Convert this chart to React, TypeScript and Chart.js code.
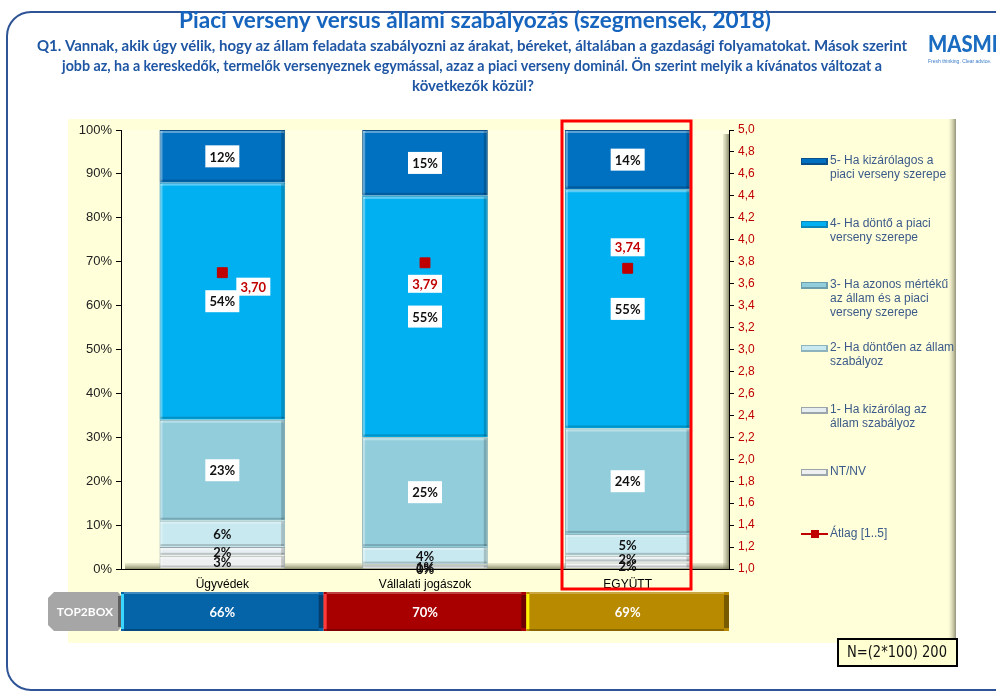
import { useEffect, useRef } from 'react';
import { Chart, registerables } from 'chart.js';
Chart.register(...registerables);

const categories = ['Ügyvédek', 'Vállalati jogászok', 'EGYÜTT'];
const ntnvValues = [3, 0, 1.5];
const s1Values = [2, 1, 1.5];
const s2Values = [6, 4, 5];
const s3Values = [23, 25, 24];
const s4Values = [54, 55, 54.5];
const s5Values = [12, 15, 13.5];
const averageValues = [3.7, 3.79, 3.74];
const top2boxValues = [66, 70, 69];

const seriesNames = [
  'NT/NV',
  '1- Ha kizárólag az állam szabályoz',
  '2- Ha döntően az állam szabályoz',
  '3- Ha azonos mértékű az állam és a piaci verseny szerepe',
  '4- Ha döntő a piaci verseny szerepe',
  '5- Ha kizárólagos a piaci verseny szerepe',
];
const averageName = 'Átlag [1..5]';
const legendLines: string[][] = [
  ['NT/NV'],
  ['1- Ha kizárólag az', 'állam szabályoz'],
  ['2- Ha döntően az állam', 'szabályoz'],
  ['3- Ha azonos mértékű', 'az állam és a piaci', 'verseny szerepe'],
  ['4- Ha döntő a piaci', 'verseny szerepe'],
  ['5- Ha kizárólagos a', 'piaci verseny szerepe'],
];
const seriesColors = ['#EDEFF0', '#E6EEF1', '#C8E9F0', '#92CDDC', '#00B0F0', '#0070C0'];
const seriesBorders = ['#9AA6AA', '#9AA6AA', '#8FB3BD', '#6F9FAD', '#0A86B8', '#0A4F8A'];
const top2boxColors = ['#0563A8', '#A80000', '#B88A00'];
const top2boxHighlights = ['#39D6FF', '#FF3A3A', '#FFF200'];

const titleText = 'Piaci verseny versus állami szabályozás (szegmensek, 2018)';
const subtitleLines = [
  'Q1. Vannak, akik úgy vélik, hogy az állam feladata szabályozni az árakat, béreket, általában a gazdasági folyamatokat. Mások szerint',
  'jobb az, ha a kereskedők, termelők versenyeznek egymással, azaz a piaci verseny dominál. Ön szerint melyik a kívánatos változat a',
  'következők közül?',
];

const W = 996;
const H = 691;
const SANS = '"Liberation Sans", Arial, sans-serif';
const NARROW = 'Lato, "Liberation Sans", sans-serif';

const decorPlugin = {
  id: 'decor',
  beforeDraw(chart: any) {
    const ctx = chart.ctx as CanvasRenderingContext2D;
    const ca = chart.chartArea;
    ctx.save();
    ctx.fillStyle = '#FFFFFF';
    ctx.fillRect(0, 0, W, H);
    // frame
    ctx.strokeStyle = '#2F5496';
    ctx.lineWidth = 2;
    ctx.beginPath();
    (ctx as any).roundRect(7, 12, 1100, 678, 24);
    ctx.stroke();
    // title
    ctx.fillStyle = '#1664BE';
    ctx.textAlign = 'center';
    ctx.textBaseline = 'middle';
    ctx.font = `bold 23px ${NARROW}`;
    ctx.fillText(titleText, 475, 21, 592);
    ctx.fillStyle = '#1F56A3';
    ctx.font = `bold 15px ${NARROW}`;
    ctx.fillText(subtitleLines[0], 472, 46, 880);
    ctx.fillText(subtitleLines[1], 472, 66, 820);
    ctx.fillText(subtitleLines[2], 473, 86, 145);
    // logo
    ctx.textAlign = 'left';
    ctx.fillStyle = '#1A6CC0';
    ctx.font = `900 22px ${NARROW}`;
    ctx.fillText('MASMI', 928, 45, 70);
    ctx.font = `5px ${SANS}`;
    ctx.fillStyle = '#3A7BC8';
    ctx.fillText('Fresh thinking. Clear advice.', 928, 62);
    // cream panel
    ctx.fillStyle = '#FFFFD9';
    ctx.fillRect(68, 119, 887, 524);
    const g = ctx.createLinearGradient(948, 0, 956, 0);
    g.addColorStop(0, 'rgba(200,200,170,0)');
    g.addColorStop(1, 'rgba(120,120,90,0.8)');
    ctx.fillStyle = g;
    ctx.fillRect(948, 119, 8, 524);
    // plot wall
    ctx.fillStyle = '#FFFFE4';
    ctx.fillRect(ca.left, ca.top, ca.right - ca.left, ca.bottom - ca.top);
    const gr = ctx.createLinearGradient(ca.right - 6, 0, ca.right, 0);
    gr.addColorStop(0, 'rgba(160,160,130,0.2)');
    gr.addColorStop(1, 'rgba(110,110,80,0.8)');
    ctx.fillStyle = gr;
    ctx.fillRect(ca.right - 6, ca.top + 4, 6, ca.bottom - ca.top - 4);
    const gb = ctx.createLinearGradient(0, ca.bottom - 6, 0, ca.bottom);
    gb.addColorStop(0, 'rgba(160,160,130,0.2)');
    gb.addColorStop(1, 'rgba(110,110,80,0.8)');
    ctx.fillStyle = gb;
    ctx.fillRect(ca.left + 4, ca.bottom - 6, ca.right - ca.left - 4, 6);
    ctx.restore();
  },
  afterDatasetsDraw(chart: any) {
    const ctx = chart.ctx as CanvasRenderingContext2D;
    ctx.save();
    const bars: any[] = [];
    chart.data.datasets.forEach((ds: any, di: number) => {
      if (ds.type === 'line') return;
      const meta = chart.getDatasetMeta(di);
      meta.data.forEach((el: any, i: number) => {
        const p = el.getProps(['x', 'y', 'base', 'width'], true);
        const top = Math.min(p.y, p.base);
        const h = Math.abs(p.base - p.y);
        const left = p.x - p.width / 2;
        if (h > 3) {
          ctx.fillStyle = 'rgba(255,255,255,0.35)';
          ctx.fillRect(left + 1, top + 1, p.width - 2, 2);
          ctx.fillRect(left + 1, top + 1, 2, h - 2);
          ctx.fillStyle = 'rgba(0,0,0,0.18)';
          ctx.fillRect(left + p.width - 4, top + 1, 3, h - 2);
          ctx.fillRect(left + 1, top + h - 3, p.width - 2, 2);
        }
        bars.push({ x: p.x, cy: (p.y + p.base) / 2, v: ds.data[i] });
      });
    });
    ctx.textAlign = 'center';
    ctx.textBaseline = 'middle';
    ctx.font = `bold 13px ${NARROW}`;
    bars.forEach((b) => {
      const t = Math.round(b.v) + '%';
      if (b.v >= 10) {
        ctx.fillStyle = '#FFFFFF';
        ctx.fillRect(b.x - 17, b.cy - 11, 34, 22);
      }
      ctx.fillStyle = '#111111';
      ctx.fillText(t, b.x, b.cy + 1);
    });
    // average labels
    const offsets = [[31, 14], [0, 21], [0, -21]];
    chart.data.datasets.forEach((ds: any, di: number) => {
      if (ds.type !== 'line') return;
      const meta = chart.getDatasetMeta(di);
      meta.data.forEach((el: any, i: number) => {
        const cx = el.x + offsets[i][0];
        const cy = el.y + offsets[i][1];
        ctx.fillStyle = '#FFFFFF';
        ctx.fillRect(cx - 17, cy - 9, 34, 18);
        ctx.fillStyle = '#C00000';
        ctx.fillText(ds.data[i].toFixed(2).replace('.', ','), cx, cy + 1);
      });
    });
    ctx.restore();
  },
  afterDraw(chart: any) {
    const ctx = chart.ctx as CanvasRenderingContext2D;
    const xs = chart.scales.x;
    ctx.save();
    // TOP2BOX row
    const ty = 592;
    const th = 39;
    ctx.fillStyle = '#A6A6A6';
    ctx.beginPath();
    ctx.moveTo(54, ty); ctx.lineTo(118, ty); ctx.lineTo(123, ty + 6); ctx.lineTo(123, ty + th - 6);
    ctx.lineTo(118, ty + th); ctx.lineTo(54, ty + th); ctx.lineTo(48, ty + th - 6); ctx.lineTo(48, ty + 6);
    ctx.closePath();
    ctx.fill();
    ctx.fillStyle = '#5F5F5F';
    ctx.fillRect(118, ty + 4, 5, th - 8);
    ctx.fillStyle = '#FFFFFF';
    ctx.textAlign = 'center';
    ctx.textBaseline = 'middle';
    ctx.font = `bold 12px ${NARROW}`;
    ctx.fillText('TOP2BOX', 85, ty + th / 2 + 1, 68);
    const half = (xs.getPixelForValue(1) - xs.getPixelForValue(0)) / 2;
    top2boxValues.forEach((v, i) => {
      const cx = xs.getPixelForValue(i);
      const l = cx - half;
      const w = half * 2;
      ctx.fillStyle = top2boxColors[i];
      ctx.fillRect(l, ty, w, th);
      ctx.fillStyle = top2boxHighlights[i];
      ctx.fillRect(l, ty + 2, 3, th - 4);
      ctx.fillStyle = 'rgba(0,0,0,0.35)';
      ctx.fillRect(l + w - 5, ty + 3, 5, th - 6);
      ctx.fillStyle = 'rgba(255,255,255,0.25)';
      ctx.fillRect(l + 3, ty, w - 8, 2);
      ctx.fillStyle = 'rgba(0,0,0,0.25)';
      ctx.fillRect(l + 3, ty + th - 2, w - 8, 2);
      ctx.fillStyle = '#FFFFFF';
      ctx.font = `bold 13px ${NARROW}`;
      ctx.fillText(v + '%', cx, ty + th / 2 + 1);
    });
    // red highlight box
    ctx.strokeStyle = '#FF0000';
    ctx.lineWidth = 3;
    ctx.strokeRect(562, 121, 129, 468);
    // legend
    const items: { lines: string[]; color: string; border: string; line?: boolean }[] = [];
    for (let k = seriesNames.length - 1; k >= 0; k--) {
      items.push({ lines: legendLines[k], color: seriesColors[k], border: seriesBorders[k] });
    }
    items.push({ lines: [averageName], color: '#C00000', border: '#C00000', line: true });
    const ys = [160, 223, 284, 347, 409, 471, 533];
    ctx.textAlign = 'left';
    ctx.font = `12px ${SANS}`;
    items.forEach((it, k) => {
      const y = ys[k];
      if (it.line) {
        ctx.strokeStyle = it.color;
        ctx.lineWidth = 2;
        ctx.beginPath();
        ctx.moveTo(801, y + 1);
        ctx.lineTo(828, y + 1);
        ctx.stroke();
        ctx.fillStyle = it.color;
        ctx.fillRect(811, y - 3, 8, 8);
      } else {
        ctx.fillStyle = it.border;
        ctx.fillRect(801, y - 2, 27, 7);
        ctx.fillStyle = it.color;
        ctx.fillRect(802, y - 1, 24, 4);
      }
      ctx.fillStyle = '#3B5A8A';
      it.lines.forEach((ln, j) => ctx.fillText(ln, 830, y + 1 + j * 14));
    });
    // N box
    ctx.fillStyle = '#FFFFD2';
    ctx.fillRect(838, 639, 119, 27);
    ctx.strokeStyle = '#000000';
    ctx.lineWidth = 2;
    ctx.strokeRect(838, 639, 119, 27);
    ctx.fillStyle = '#111111';
    ctx.textAlign = 'center';
    ctx.font = `15px "DejaVu Sans", ${SANS}`;
    ctx.fillText('N=(2*100) 200', 897, 653, 100);
    ctx.restore();
  },
};

export default function App() {
  const ref = useRef<HTMLCanvasElement | null>(null);
  useEffect(() => {
    document.body.style.margin = '0';
    document.body.style.overflow = 'hidden';
    const canvas = ref.current!;
    const valueSets = [ntnvValues, s1Values, s2Values, s3Values, s4Values, s5Values];
    const chart = new Chart(canvas, {
      type: 'bar',
      data: {
        labels: categories,
        datasets: [
          {
            type: 'line',
            label: averageName,
            data: averageValues,
            yAxisID: 'y1',
            showLine: false,
            pointStyle: 'rect',
            pointRadius: 7,
            pointHoverRadius: 7,
            backgroundColor: '#C00000',
            borderColor: '#C00000',
            order: 0,
          } as any,
          ...valueSets.map((vals, k) => ({
            type: 'bar',
            label: seriesNames[k],
            data: vals,
            backgroundColor: seriesColors[k],
            borderColor: seriesBorders[k],
            borderWidth: 1,
            stack: 's',
            yAxisID: 'y',
            barPercentage: 0.62,
            categoryPercentage: 1,
            order: 1,
          })),
        ],
      },
      options: {
        responsive: false,
        animation: false,
        layout: { padding: { left: 68, right: 227, top: 130, bottom: 100 } },
        plugins: { legend: { display: false }, tooltip: { enabled: false }, title: { display: false } },
        scales: {
          x: {
            stacked: true,
            grid: { display: false, drawTicks: false },
            border: { color: '#000000', width: 1 },
            ticks: { color: '#000000', font: { family: SANS, size: 12 }, padding: 8 },
            afterFit: (s: any) => { s.height = 22; },
          },
          y: {
            stacked: true,
            min: 0,
            max: 100,
            ticks: { stepSize: 10, callback: (v: any) => v + '%', color: '#222222', font: { family: SANS, size: 13 }, padding: 4 },
            grid: { drawOnChartArea: false, tickLength: 5, color: '#000000' },
            border: { color: '#000000', width: 1 },
            afterFit: (s: any) => { s.width = 53; },
          },
          y1: {
            position: 'right',
            min: 1,
            max: 5,
            ticks: { stepSize: 0.2, callback: (v: any) => Number(v).toFixed(1).replace('.', ','), color: '#C00000', font: { family: SANS, size: 12 }, padding: 4 },
            grid: { drawOnChartArea: false, tickLength: 5, color: '#000000' },
            border: { color: '#000000', width: 1 },
            afterFit: (s: any) => { s.width = 40; },
          },
        },
      } as any,
      plugins: [decorPlugin],
    });
    return () => chart.destroy();
  }, []);
  return (
    <div style={{ position: 'absolute', left: 0, top: 0, width: W, height: H }}>
      <canvas ref={ref} width={W} height={H} style={{ display: 'block', width: W, height: H }} />
    </div>
  );
}
